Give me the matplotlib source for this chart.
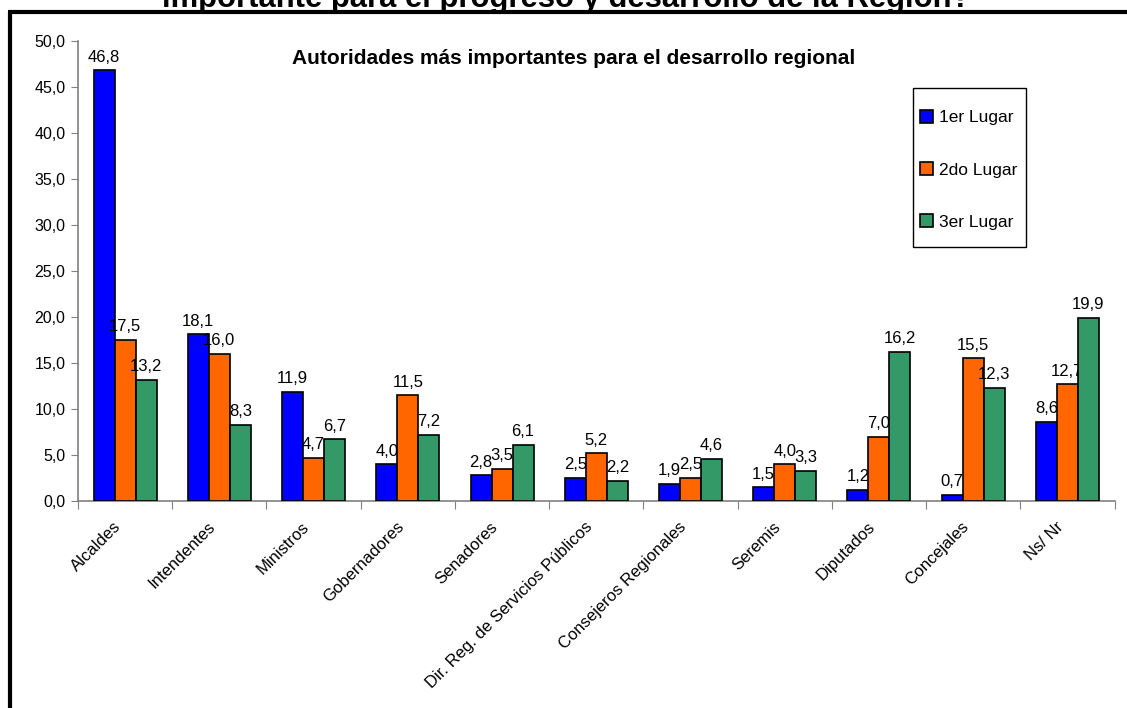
import matplotlib
matplotlib.use("Agg")
import matplotlib.pyplot as plt
import matplotlib.transforms as mtransforms
import numpy as np
from matplotlib.lines import Line2D
from matplotlib.patches import Rectangle

categories = ["Alcaldes", "Intendentes", "Ministros", "Gobernadores", "Senadores",
              "Dir. Reg. de Servicios Públicos", "Consejeros Regionales", "Seremis",
              "Diputados", "Concejales", "Ns/ Nr"]
primero = [46.8, 18.1, 11.9, 4.0, 2.8, 2.5, 1.9, 1.5, 1.2, 0.7, 8.6]
segundo = [17.5, 16.0, 4.7, 11.5, 3.5, 5.2, 2.5, 4.0, 7.0, 15.5, 12.7]
tercero = [13.2, 8.3, 6.7, 7.2, 6.1, 2.2, 4.6, 3.3, 16.2, 12.3, 19.9]
series_names = ["1er Lugar", "2do Lugar", "3er Lugar"]
colors = ["#0000FF", "#FF6600", "#339966"]

plt.rcParams['font.family'] = ['Liberation Sans', 'DejaVu Sans']

W, H = 1127, 708
fig = plt.figure(figsize=(W / 100, H / 100), dpi=100)
ax = fig.add_axes([78 / W, 1 - 501 / H, (1114.5 - 78) / W, (501 - 41) / H])

x = np.arange(len(categories))
bw = 0.223
for i, (vals, name, c) in enumerate(zip([primero, segundo, tercero], series_names, colors)):
    pos = x + (i - 1) * bw
    ax.bar(pos, vals, width=bw, color=c, edgecolor="black", linewidth=1.2, label=name, zorder=3)
    for p, v in zip(pos, vals):
        ax.annotate(f"{v:.1f}".replace(".", ","), (p, v), xytext=(0, 4),
                    textcoords="offset points", ha="center", va="bottom", fontsize=12)

ax.set_xlim(-0.5, len(categories) - 0.5)
ax.set_ylim(0, 50)
yt = np.arange(0, 50.1, 5)
ax.set_yticks(yt)
ax.set_yticklabels([f"{v:.1f}".replace(".", ",") for v in yt], fontsize=11.5)
ax.set_xticks(np.arange(-0.5, len(categories), 1.0))
ax.set_xticklabels([])
ax.set_xticks(x, minor=True)
ax.set_xticklabels(categories, minor=True, rotation=45, ha="right", va="center",
                   rotation_mode="anchor", fontsize=12)
ax.tick_params(axis="x", which="minor", length=0, pad=6)
ax.tick_params(axis="x", which="major", length=6, color="#808080", direction="out")
ax.tick_params(axis="y", length=5, color="#808080", direction="out", pad=4)
offset = mtransforms.ScaledTranslation(-6.5 / 100, -15 / 100, fig.dpi_scale_trans)
for lab in ax.get_xticklabels(minor=True):
    lab.set_transform(lab.get_transform() + offset)
for s in ["top", "right"]:
    ax.spines[s].set_visible(False)
for s in ["left", "bottom"]:
    ax.spines[s].set_color("#808080")
    ax.spines[s].set_linewidth(1.2)

fig.text(574 / W, 1 - 58 / H, "Autoridades más importantes para el desarrollo regional",
         ha="center", va="center", fontsize=15, fontweight="bold")

# legend: frame drawn as a rectangle in pixel coordinates, entries placed inside
fig.add_artist(Rectangle((913 / W, 1 - 247 / H), (1026 - 913) / W, (247 - 88) / H,
                         transform=fig.transFigure, facecolor="white", edgecolor="black",
                         linewidth=1.0, zorder=5))
leg = fig.legend(loc="upper left", bbox_to_anchor=(920 / W, 1 - 110 / H),
                 frameon=False, fontsize=12.5,
                 handlelength=0.75, handleheight=0.75, handletextpad=0.35,
                 labelspacing=2.12, borderpad=0, borderaxespad=0)
leg.set_zorder(6)

fig.text(566 / W, 1 - 7 / H, "importante para el progreso y desarrollo de la Región?",
         ha="center", va="baseline", fontsize=22.3, fontweight="bold")

# outer frame
lw = 3
fig.add_artist(Line2D([9.5 / W, 9.5 / W], [0, 1 - 11.5 / H], color="black", linewidth=lw,
                      transform=fig.transFigure, solid_capstyle="butt"))
fig.add_artist(Line2D([8 / W, 1.0], [1 - 11.5 / H, 1 - 11.5 / H], color="black", linewidth=lw,
                      transform=fig.transFigure, solid_capstyle="butt"))

fig.savefig("out.png", dpi=100)
